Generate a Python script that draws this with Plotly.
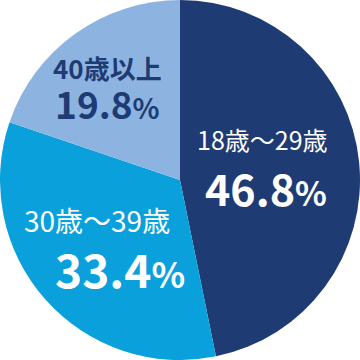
import plotly.graph_objects as go

labels = ["18歳～29歳", "30歳～39歳", "40歳以上"]
values = [46.8, 33.4, 19.8]
colors = ["#1f3b73", "#0aa0dc", "#8db4e1"]
text_colors = ["#ffffff", "#ffffff", "#1f3b73"]

fig = go.Figure(go.Pie(
    labels=labels, values=values, sort=False, direction="clockwise", rotation=0,
    marker=dict(colors=colors, line=dict(width=0)),
    textinfo="none", hoverinfo="skip", showlegend=False,
    domain=dict(x=[0, 1], y=[0, 1]),
))

FONT = "Noto Sans CJK JP"
# layout positions (pixels) for each slice's label and value
pos = [
    dict(lx=262, ly=139, vx=266, vy=187, lsize=25, vsize=43, psize=33, bold=False, stack=False),
    dict(lx=97, ly=220, vx=120, vy=268, lsize=28, vsize=46, psize=35, bold=False, stack=False),
    dict(lx=107, ly=89, vx=107, vy=89, lsize=26, vsize=37, psize=28, bold=True, stack=True),
]
ann = []
for lab, v, tc, p in zip(labels, values, text_colors, pos):
    lab_txt = f"<b>{lab}</b>" if p["bold"] else lab
    val_txt = f"<b>{v:.1f}<span style='font-size:{p['psize']}px'>%</span></b>"
    if p["stack"]:
        ann.append(dict(x=p["lx"] / 360, y=1 - p["ly"] / 360, xref="paper", yref="paper",
                        text=f"<span style='font-size:{p['lsize']}px'>{lab_txt}</span><br>"
                             f"<span style='font-size:{p['vsize']}px'>{val_txt}</span>",
                        showarrow=False, align="center",
                        font=dict(family=FONT, size=31, color=tc),
                        xanchor="center", yanchor="middle"))
        continue
    ann.append(dict(x=p["lx"] / 360, y=1 - p["ly"] / 360, xref="paper", yref="paper",
                    text=lab_txt, showarrow=False,
                    font=dict(family=FONT, size=p["lsize"], color=tc),
                    xanchor="center", yanchor="middle"))
    ann.append(dict(x=p["vx"] / 360, y=1 - p["vy"] / 360, xref="paper", yref="paper",
                    text=val_txt, showarrow=False,
                    font=dict(family=FONT, size=p["vsize"], color=tc),
                    xanchor="center", yanchor="middle"))

fig.update_layout(width=360, height=360, margin=dict(l=0, r=0, t=0, b=0),
                  paper_bgcolor="white", plot_bgcolor="white", annotations=ann)
fig.write_html("out.html")
